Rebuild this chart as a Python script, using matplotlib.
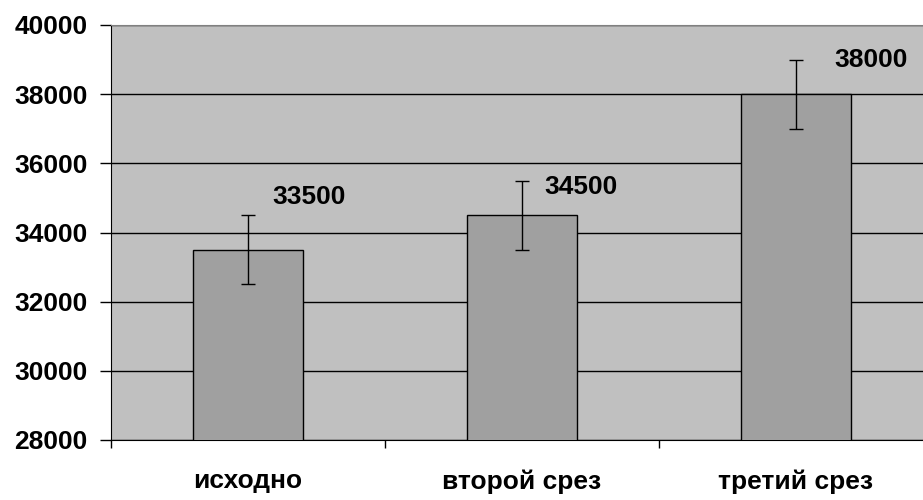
import matplotlib.pyplot as plt
import numpy as np

categories = ['исходно', 'второй срез', 'третий срез']
values = [33500, 34500, 38000]
errors = [1000, 1000, 1000]
value_labels = ['33500', '34500', '38000']

# label offsets in pixels (dx, dy) from the bar top
label_offsets = [(61, 53), (59, 28), (75, 34)]

plt.rcParams['font.family'] = ['Liberation Sans', 'DejaVu Sans']

fig = plt.figure(figsize=(9.23, 5.0), dpi=100)
# plot area runs a bit beyond the right edge of the image
ax = fig.add_axes([111 / 923, 60 / 500, 822 / 923, 415 / 500])
ax.set_facecolor('#c0c0c0')

x = np.arange(len(categories))
ax.bar(x, values, width=0.4, bottom=0, color='#a0a0a0', edgecolor='black',
       linewidth=1.0, zorder=3)
ax.errorbar(x, values, yerr=errors, fmt='none', ecolor='black', elinewidth=1.0,
            capsize=5, capthick=1.0, zorder=4)

for xi, v, lab, (dx, dy) in zip(x, values, value_labels, label_offsets):
    ax.annotate(lab, xy=(xi, v), xytext=(dx * 0.72, dy * 0.72),
                textcoords='offset points', ha='center', va='center',
                fontsize=19, fontweight='bold', zorder=5)

ax.set_xlim(-0.5, 2.5)
ax.set_ylim(28000, 40000)
ax.set_yticks(np.arange(28000, 40001, 2000))
ax.yaxis.grid(True, color='black', linewidth=1.0, zorder=1)
ax.set_axisbelow(True)

ax.set_xticks([-0.5, 0.5, 1.5, 2.5])
ax.set_xticklabels([])
ax.set_xticks(x, minor=True)
ax.set_xticklabels(categories, minor=True, fontsize=19, fontweight='bold')
ax.tick_params(axis='x', which='minor', length=0, pad=21)
ax.tick_params(axis='x', which='major', length=6, width=1, color='black', direction='out')
ax.tick_params(axis='y', length=8, width=1, color='black', labelsize=19, pad=9)
for t in ax.get_yticklabels():
    t.set_fontweight('bold')

ax.spines['left'].set_color('black')
ax.spines['bottom'].set_color('black')
ax.spines['top'].set_color('#808080')
ax.spines['right'].set_visible(False)

fig.savefig('out.png', dpi=100)
